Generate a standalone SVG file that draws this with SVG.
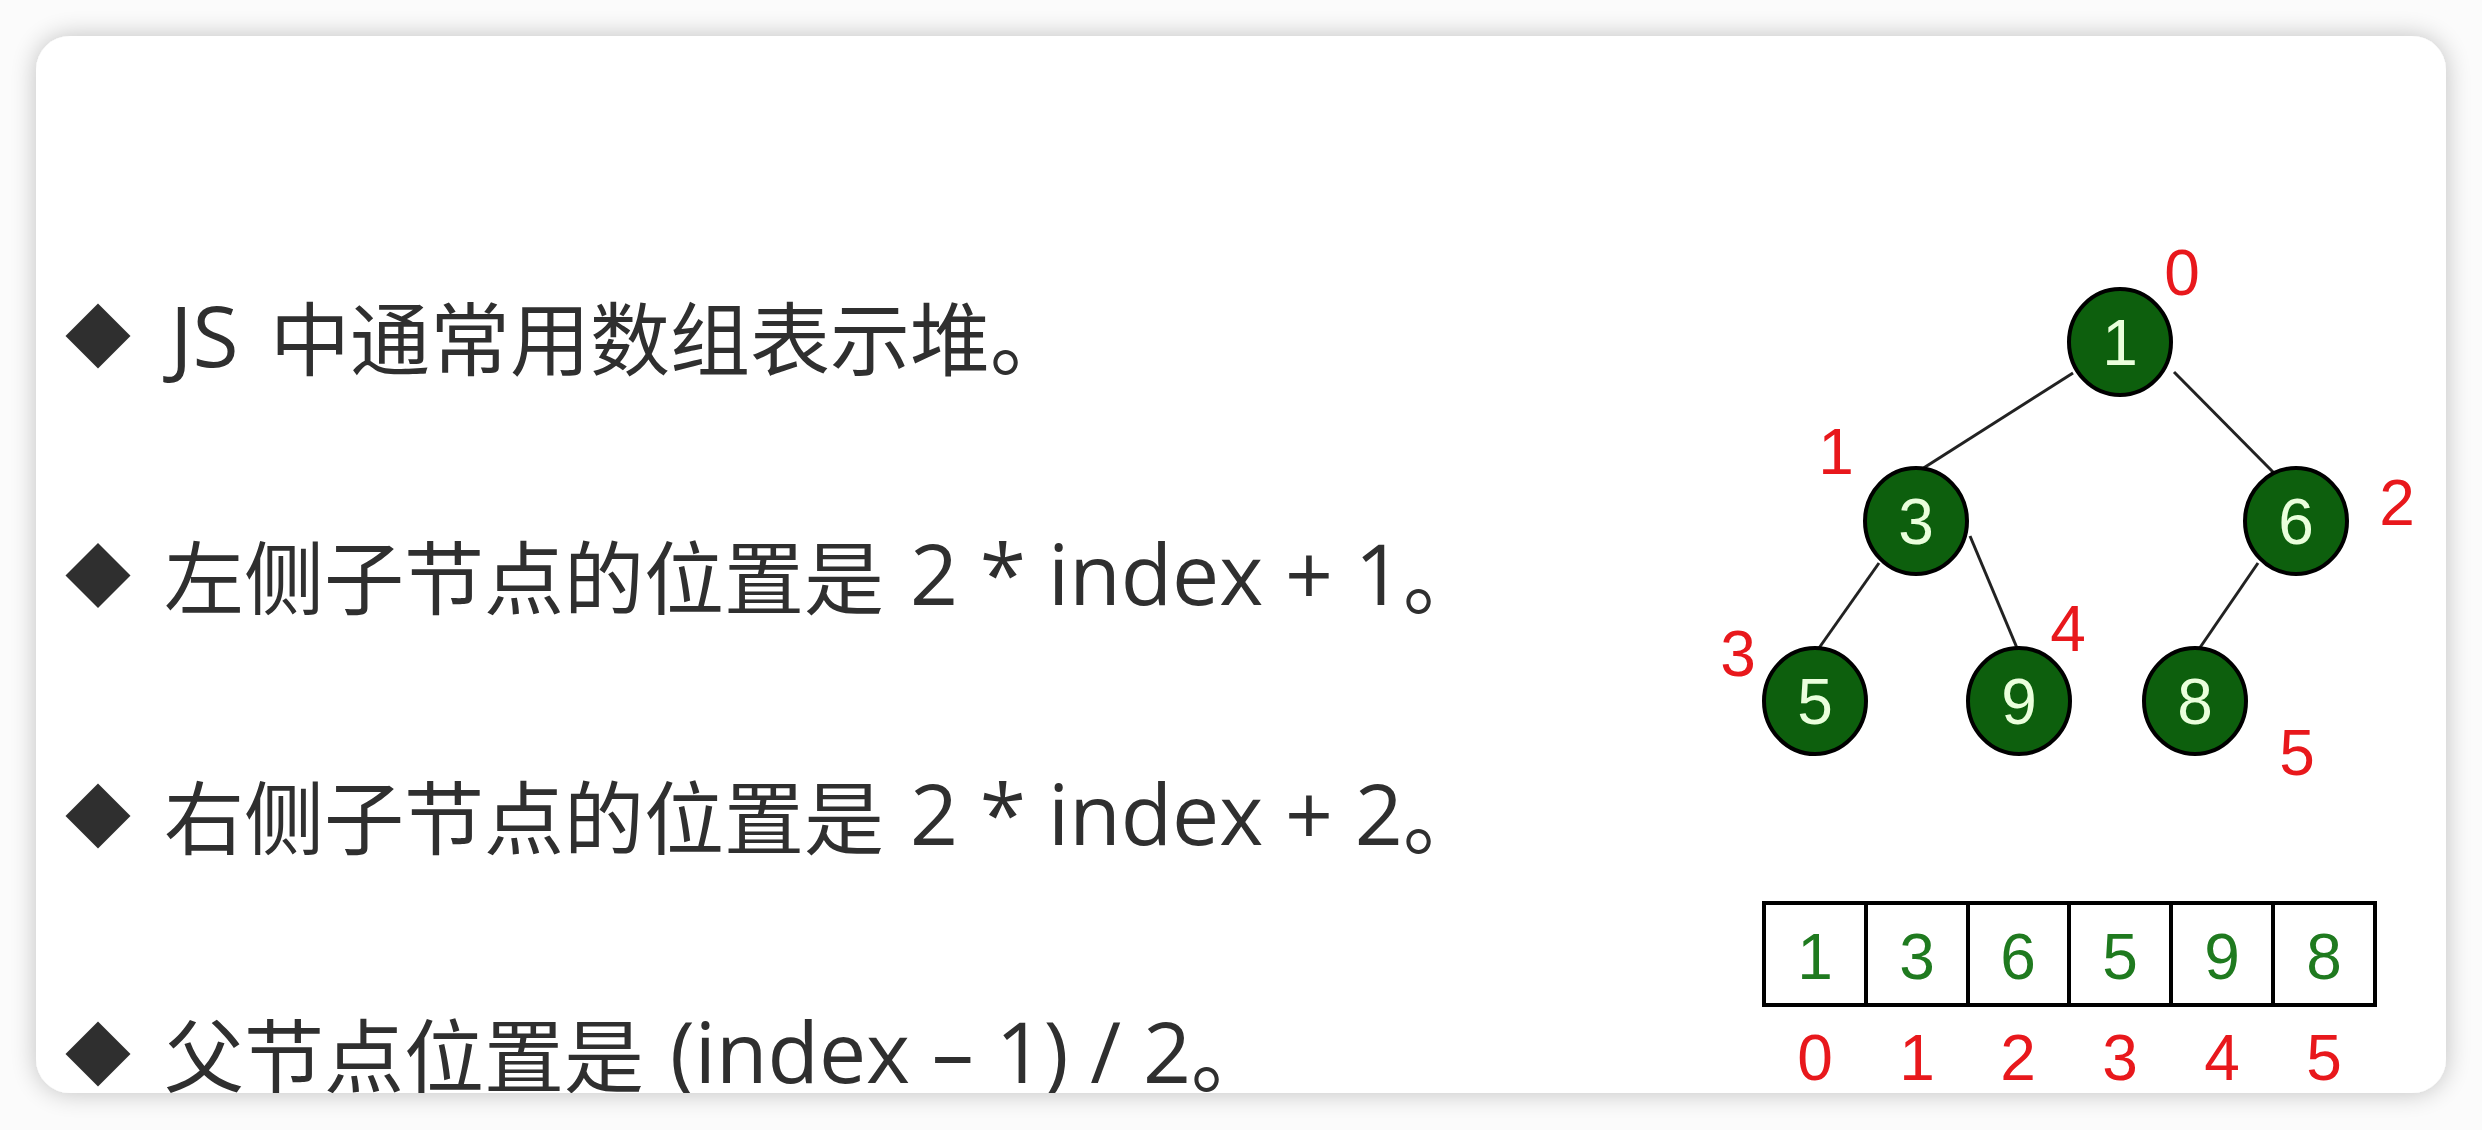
<svg xmlns="http://www.w3.org/2000/svg" width="2482" height="1130" viewBox="0 0 2482 1130">
  <defs>
    <filter id="shadow" x="-5%" y="-10%" width="110%" height="120%">
      <feGaussianBlur in="SourceAlpha" stdDeviation="13"/>
      <feComponentTransfer><feFuncA type="linear" slope="0.24"/></feComponentTransfer>
      <feMerge><feMergeNode/><feMergeNode in="SourceGraphic"/></feMerge>
    </filter>
    <clipPath id="cardClip">
      <rect x="36" y="36" width="2410" height="1057" rx="34" ry="34"/>
    </clipPath>
    <style>
      .bullet { fill: #2f2f2f; }
      .line { font-family: "Open Sans", "Noto Sans CJK SC", sans-serif; fill: #2f2f2f; }
      .cjk { font-family: "Noto Sans CJK SC", sans-serif; font-size: 80px; }
      .lat { font-family: "Open Sans", "Noto Sans CJK SC", sans-serif; font-size: 84px; }
      .node ellipse { fill: #0d5f0d; stroke: #000; stroke-width: 4; }
      .node text { font-family: "Liberation Sans", Arial, sans-serif; font-size: 64px; fill: #eaffdc; text-anchor: middle; }
      .idx { font-family: "Liberation Sans", Arial, sans-serif; font-size: 64px; fill: #e8181c; text-anchor: middle; }
      .edges line { stroke: #222; stroke-width: 3; }
      .cell rect { fill: #fff; stroke: #000; stroke-width: 4; }
      .cell text { font-family: "Liberation Sans", Arial, sans-serif; font-size: 64px; fill: #1f7a1f; text-anchor: middle; }
      .aidx { font-family: "Liberation Sans", Arial, sans-serif; font-size: 64px; fill: #e8181c; text-anchor: middle; }
    </style>
  </defs>

  <rect x="0" y="0" width="2482" height="1130" fill="#fbfbfb"/>
  <rect id="card" x="36" y="36" width="2410" height="1057" rx="34" ry="34" fill="#ffffff" filter="url(#shadow)"/>

  <g clip-path="url(#cardClip)">
    <g id="bullet1">
      <polygon class="bullet" points="98,303.5 130.5,336 98,368.5 65.5,336"/>
      <text class="line" y="367"><tspan class="lat" x="170">JS</tspan><tspan class="cjk" x="270" y="369">中通常用数组表示堆。</tspan></text>
    </g>
    <g id="bullet2">
      <polygon class="bullet" points="98,543 130.5,575.5 98,608 65.5,575.5"/>
      <text class="line" y="608"><tspan class="cjk" x="164">左侧子节点的位置是</tspan><tspan class="lat" x="910" y="605">2 * index + 1</tspan><tspan class="cjk" y="608">。</tspan></text>
    </g>
    <g id="bullet3">
      <polygon class="bullet" points="98,783.5 130.5,816 98,848.5 65.5,816"/>
      <text class="line" y="848"><tspan class="cjk" x="164">右侧子节点的位置是</tspan><tspan class="lat" x="910" y="845">2 * index + 2</tspan><tspan class="cjk" y="848">。</tspan></text>
    </g>
    <g id="bullet4">
      <polygon class="bullet" points="98,1021.5 130.5,1054 98,1086.5 65.5,1054"/>
      <text class="line" y="1086"><tspan class="cjk" x="164">父节点位置是</tspan><tspan class="lat" x="670" y="1083">(index – 1) / 2</tspan><tspan class="cjk" y="1086">。</tspan></text>
    </g>
  </g>

  <g id="connectors" class="edges">
    <line x1="2073" y1="373" x2="1922" y2="469"/>
    <line x1="2174" y1="372" x2="2274" y2="473"/>
    <line x1="1879" y1="563" x2="1819" y2="648"/>
    <line x1="1970" y1="536" x2="2017" y2="648"/>
    <line x1="2258" y1="563" x2="2199" y2="649"/>
  </g>

  <g id="node-0" class="node"><ellipse cx="2120" cy="342" rx="51" ry="53"/><text x="2120" y="365">1</text></g>
  <g id="node-1" class="node"><ellipse cx="1916" cy="521" rx="51" ry="53"/><text x="1916" y="544">3</text></g>
  <g id="node-2" class="node"><ellipse cx="2296" cy="521" rx="51" ry="53"/><text x="2296" y="544">6</text></g>
  <g id="node-3" class="node"><ellipse cx="1815" cy="701" rx="51" ry="53"/><text x="1815" y="724">5</text></g>
  <g id="node-4" class="node"><ellipse cx="2019" cy="701" rx="51" ry="53"/><text x="2019" y="724">9</text></g>
  <g id="node-5" class="node"><ellipse cx="2195" cy="701" rx="51" ry="53"/><text x="2195" y="724">8</text></g>

  <g id="tree-indices">
    <text class="idx" x="2182" y="295">0</text>
    <text class="idx" x="1836" y="474">1</text>
    <text class="idx" x="2397" y="525">2</text>
    <text class="idx" x="1738" y="676">3</text>
    <text class="idx" x="2068" y="651">4</text>
    <text class="idx" x="2297" y="775">5</text>
  </g>

  <g id="array">
    <g class="cell"><rect x="1764" y="903" width="102" height="102"/><text x="1815" y="979">1</text></g>
    <g class="cell"><rect x="1866" y="903" width="102" height="102"/><text x="1917" y="979">3</text></g>
    <g class="cell"><rect x="1968" y="903" width="101" height="102"/><text x="2018" y="979">6</text></g>
    <g class="cell"><rect x="2069" y="903" width="102" height="102"/><text x="2120" y="979">5</text></g>
    <g class="cell"><rect x="2171" y="903" width="102" height="102"/><text x="2222" y="979">9</text></g>
    <g class="cell"><rect x="2273" y="903" width="102" height="102"/><text x="2324" y="979">8</text></g>
  </g>

  <g id="array-indices">
    <text class="aidx" x="1815" y="1080">0</text>
    <text class="aidx" x="1917" y="1080">1</text>
    <text class="aidx" x="2018" y="1080">2</text>
    <text class="aidx" x="2120" y="1080">3</text>
    <text class="aidx" x="2222" y="1080">4</text>
    <text class="aidx" x="2324" y="1080">5</text>
  </g>
</svg>
